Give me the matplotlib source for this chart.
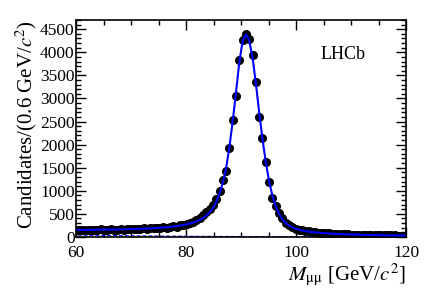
import numpy as np
import matplotlib.pyplot as plt
from matplotlib.ticker import MultipleLocator

plt.rcParams['font.family'] = ['Liberation Serif', 'DejaVu Serif']
plt.rcParams['mathtext.fontset'] = 'stix'

# 100 bins of 0.6 GeV from 60 to 120
bin_lo = 60.0
bin_w = 0.6
counts = [
    148, 155, 142, 160, 151, 146, 158, 163, 149, 155,
    168, 152, 160, 171, 158, 165, 172, 175, 168, 180,
    185, 178, 190, 196, 188, 203, 210, 198, 222, 230,
    225, 248, 262, 285, 300, 330, 362, 410, 470, 540,
    610, 700, 830, 985, 1240, 1420, 1930, 2530, 3050, 3840,
    4270, 4400, 4280, 3950, 3350, 2600, 2150, 1620, 1180, 850,
    680, 520, 400, 300, 255, 210, 180, 160, 140, 128,
    118, 105, 100, 92, 85, 82, 76, 70, 68, 62,
    60, 58, 54, 52, 50, 47, 45, 44, 42, 40,
    38, 37, 36, 34, 33, 32, 31, 30, 29, 28,
]
fit = [
    150, 151, 152, 153, 154, 155, 156, 157, 158, 159,
    160, 161, 162, 164, 166, 168, 170, 172, 174, 177,
    180, 183, 186, 190, 194, 199, 204, 210, 217, 225,
    234, 245, 258, 274, 292, 314, 340, 372, 412, 465,
    535, 630, 760, 940, 1180, 1500, 1960, 2520, 3150, 3800,
    4250, 4390, 4250, 3880, 3320, 2700, 2120, 1620, 1210, 890,
    660, 500, 385, 305, 250, 210, 180, 158, 140, 126,
    115, 106, 98, 91, 85, 80, 75, 71, 67, 64,
    61, 58, 55, 53, 51, 49, 47, 45, 43, 42,
    40, 39, 37, 36, 35, 34, 33, 32, 31, 30,
]
background = [
    40, 39, 38, 37, 36, 35, 34, 33, 32, 31,
    30, 29, 28, 27, 26, 26, 25, 24, 23, 23,
    22, 21, 21, 20, 19, 19, 18, 18, 17, 17,
    16, 16, 15, 15, 14, 14, 13, 13, 13, 12,
    12, 11, 11, 11, 10, 10, 10, 9, 9, 9,
    9, 8, 8, 8, 8, 7, 7, 7, 7, 7,
    6, 6, 6, 6, 6, 6, 5, 5, 5, 5,
    5, 5, 5, 4, 4, 4, 4, 4, 4, 4,
    4, 4, 3, 3, 3, 3, 3, 3, 3, 3,
    3, 3, 3, 3, 3, 2, 2, 2, 2, 2,
]

counts = np.array(counts)
centers = bin_lo + bin_w * (np.arange(len(counts)) + 0.5)

fig = plt.figure(figsize=(4.27, 2.9), dpi=100)
ax = fig.add_axes([0.178, 0.183, 0.773, 0.748])

ax.plot(centers, background, color='blue', ls='--', lw=0.8, zorder=2)
ax.errorbar(centers, counts, yerr=np.sqrt(counts), fmt='o', color='black',
            ms=5.5, elinewidth=1, capsize=0, zorder=3)
ax.plot(centers, fit, color='blue', lw=1.5, zorder=4)

ax.set_xlim(60, 120)
ax.set_ylim(0, 4700)
ax.xaxis.set_major_locator(MultipleLocator(20))
ax.xaxis.set_minor_locator(MultipleLocator(5))
ax.yaxis.set_major_locator(MultipleLocator(500))
ax.yaxis.set_minor_locator(MultipleLocator(100))
ax.tick_params(which='both', direction='in', top=True, right=True,
               labelsize=12.5, width=1)
ax.tick_params(which='major', length=7)
ax.tick_params(which='minor', length=3.5)
ax.tick_params(axis='x', pad=6)
ax.tick_params(axis='y', pad=1)
for s in ax.spines.values():
    s.set_linewidth(1.2)

ax.set_xlabel(r'$M_{\mathrm{\mu\mu}}$ [GeV/$c^2$]', fontsize=15, loc='right', labelpad=0)
ax.set_ylabel(r'Candidates/(0.6 GeV/$c^2$)', fontsize=15, loc='top', labelpad=1)
ax.text(0.81, 0.84, 'LHCb', transform=ax.transAxes, fontsize=13,
        ha='center', va='center')

fig.savefig('out.png', dpi=100)
